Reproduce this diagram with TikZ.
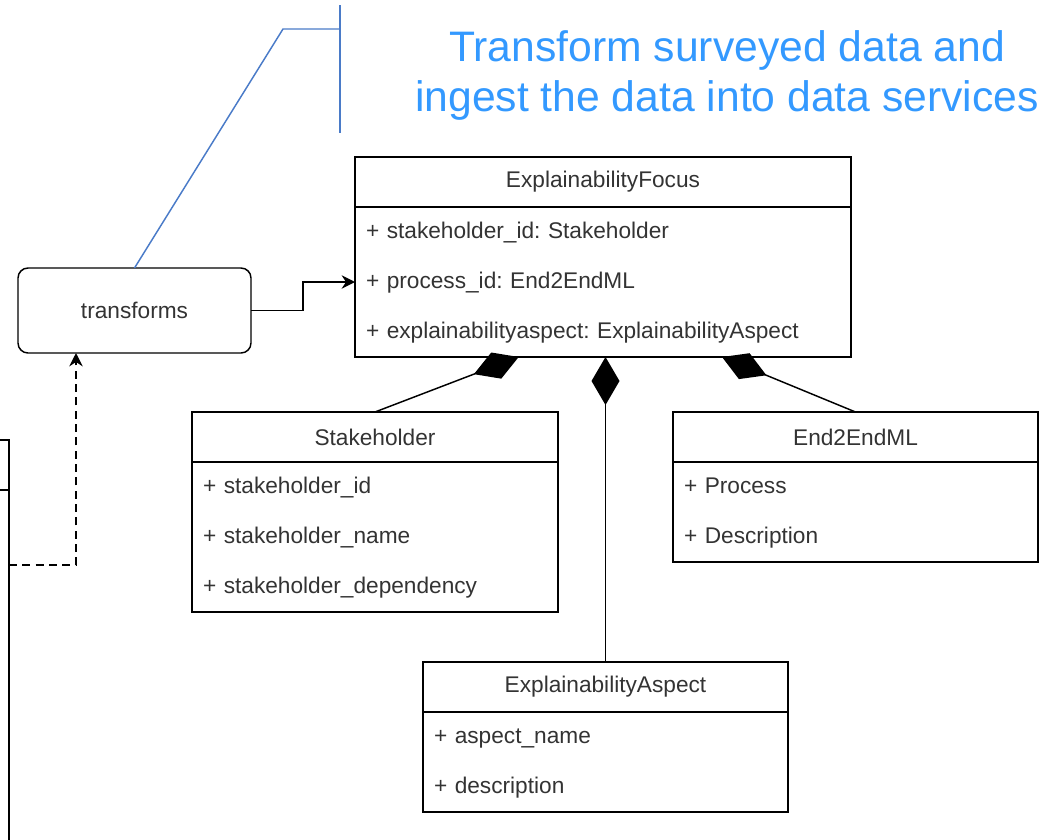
\documentclass[tikz,border=0pt]{standalone}
\usepackage{fontspec}
\setmainfont{Liberation Sans}
\usetikzlibrary{positioning, arrows.meta, calc}
\frenchspacing

\definecolor{umltext}{HTML}{333333}
\definecolor{notetext}{HTML}{3399FF}
\definecolor{noteline}{HTML}{4A7BC8}
\newcommand{\umlfont}{\fontsize{17}{37.5}\selectfont}
\newcommand{\rowstrut}{\rule[-14pt]{0pt}{37.5pt}}

\begin{document}
\begin{tikzpicture}[x=0.75pt, y=-0.75pt, line width=1.1pt,
    classhead/.style={rectangle, draw, text=umltext, font=\umlfont, minimum height=37.5pt, inner sep=0pt, outer sep=0pt},
    classbody/.style={rectangle, draw, text=umltext, font=\umlfont, align=left, inner xsep=8.25pt, inner ysep=0pt, outer sep=0pt},
    compose/.style={-{Diamond[length=36pt, width=21pt]}},
    flow/.style={-{Stealth[length=10pt, width=10pt]}}]
    \useasboundingbox (0,0) rectangle (1046,839);
    \clip (0,0) rectangle (1046,839);

    % Nodes
    \node [text=notetext, font=\fontsize{32}{37.5}\selectfont, align=center] (note) at (727,75) {Transform surveyed data and\\ingest the data into data services};

    \node [rectangle, draw, rounded corners=7.5pt, text=umltext, font=\umlfont, minimum width=174.75pt, minimum height=63.75pt, outer sep=0pt] (tr) at (134.5,310.5) {transforms};

    \node [classhead, minimum width=372pt] (ef-head) at (603,182) {ExplainabilityFocus};
    \node [classbody, text width=355.5pt, minimum height=112.5pt, below=0pt of ef-head] (ef-body) {\rowstrut+ stakeholder\_id: Stakeholder\\\rowstrut+ process\_id: End2EndML\\\rowstrut+ explainabilityaspect: ExplainabilityAspect};

    \node [classhead, minimum width=274.5pt] (sh-head) at (375,437) {Stakeholder};
    \node [classbody, text width=258pt, minimum height=112.5pt, below=0pt of sh-head] (sh-body) {\rowstrut+ stakeholder\_id\\\rowstrut+ stakeholder\_name\\\rowstrut+ stakeholder\_dependency};

    \node [classhead, minimum width=273.75pt] (e2e-head) at (855.5,437) {End2EndML};
    \node [classbody, text width=257.25pt, minimum height=75pt, below=0pt of e2e-head] (e2e-body) {\rowstrut+ Process\\\rowstrut+ Description};

    \node [classhead, minimum width=273.75pt] (ea-head) at (605.5,687) {ExplainabilityAspect};
    \node [classbody, text width=257.25pt, minimum height=75pt, below=0pt of ea-head] (ea-body) {\rowstrut+ aspect\_name\\\rowstrut+ description};

    % cut-off class on the left edge
    \node [classhead, minimum width=163.5pt] (lb-head) at (-100,465) {};
    \node [classbody, text width=147pt, minimum height=307.5pt, below=0pt of lb-head] (lb-body) {};

    % Note lines
    \coordinate (bartop) at (340,5);
    \coordinate (barbot) at (340,133);
    \coordinate (knee) at (283,29);
    \draw [noteline] (bartop) -- (barbot);
    \draw [noteline] (bartop |- knee) -- (knee) -- (tr.north);

    % Arrows
    \draw [flow] (tr.east) -- ++(52,0) |- (ef-body.west);
    \draw [flow, dashed, dash pattern=on 6pt off 4pt] ($(lb-body.north east)+(0,75)$) -| ($(tr.south west)+(58,0)$);

    \draw [compose] (sh-head.north) -- ($(ef-body.south west)!0.33!(ef-body.south east)$);
    \draw [compose] (ea-head.north) -- (ea-head.north |- ef-body.south);
    \draw [compose] (e2e-head.north) -- ($(ef-body.south west)!0.74!(ef-body.south east)$);
\end{tikzpicture}
\end{document}
